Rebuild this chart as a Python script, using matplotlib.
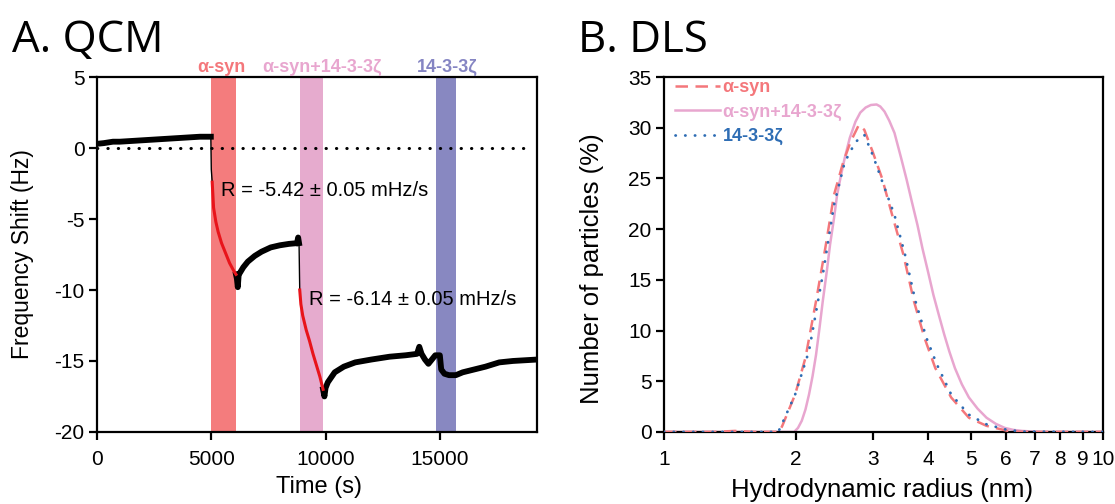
import matplotlib
matplotlib.use("Agg")
import matplotlib.pyplot as plt
from matplotlib.ticker import NullLocator

plt.rcParams["font.family"] = ["Liberation Sans", "DejaVu Sans"]
plt.rcParams["axes.unicode_minus"] = False

# ---- QCM trace ----
base_time = [0, 300, 700, 1000, 1500, 2000, 2500, 3000, 3500, 4000, 4500, 4980]
base_shift = [0.3, 0.35, 0.45, 0.45, 0.5, 0.55, 0.6, 0.65, 0.7, 0.75, 0.8, 0.8]
drop1_time = [4980, 5000, 5040]
drop1_shift = [0.8, -1.5, -2.4]
mid_time = [6080, 6120, 6160, 6200, 6250, 6400, 6600, 6900, 7200, 7600, 8000,
            8400, 8750, 8800, 8840]
mid_shift = [-8.9, -9.2, -9.8, -8.9, -8.8, -8.4, -8.0, -7.6, -7.3, -7.0, -6.85,
             -6.75, -6.7, -6.3, -6.7]
drop2_time = [8840, 8860, 8870]
drop2_shift = [-6.7, -9.0, -10.0]
tail_time = [9890, 9950, 10000, 10100, 10400, 10800, 11300, 12000, 12800, 13500,
             14000, 14100, 14200, 14350, 14500, 14650, 14800, 15000, 15060, 15200,
             15400, 15700, 16000, 16500, 17000, 17600, 18200, 19250]
tail_shift = [-17.0, -17.5, -16.9, -16.5, -15.8, -15.4, -15.1, -14.9, -14.7, -14.6,
              -14.5, -14.0, -14.5, -14.9, -15.2, -14.9, -14.6, -14.6, -15.6, -15.9,
              -16.0, -16.0, -15.8, -15.6, -15.4, -15.1, -15.0, -14.9]

fit1_time = [5040, 5100, 5200, 5300, 5450, 5600, 5800, 6000, 6080]
fit1_shift = [-2.4, -4.2, -5.2, -5.9, -6.7, -7.3, -8.1, -8.7, -8.9]
fit2_time = [8870, 8920, 9000, 9150, 9300, 9450, 9600, 9750, 9890]
fit2_shift = [-10.0, -11.0, -11.8, -12.8, -13.6, -14.5, -15.3, -16.1, -17.0]

band_names = ["α-syn", "α-syn+14-3-3ζ", "14-3-3ζ"]
band_start = [5000, 8860, 14810]
band_end = [6080, 9870, 15700]
band_colors = ["#F47C7D", "#E6ABCE", "#8888C1"]
band_text_colors = ["#F4777B", "#E8A6CF", "#8585C3"]
band_label_x = [5450, 9830, 15300]

# ---- DLS distributions ----
r_asyn = [1.0, 1.3, 1.45, 1.6, 1.83, 1.86, 1.99, 2.10, 2.22, 2.33, 2.44, 2.56,
          2.66, 2.78, 2.86, 2.99, 3.14, 3.31, 3.51, 3.71, 3.92, 4.15, 4.51,
          4.95, 5.43, 6.07, 6.54, 10.0]
n_asyn = [0, 0, 0.1, 0, 0, 0.6, 3.7, 7.3, 12.9, 18.1, 23.4, 26.6,
          28.6, 30.3, 29.8, 27.6, 25.0, 21.4, 17.5, 12.9, 9.3, 6.3, 3.4,
          1.4, 0.6, 0.1, 0, 0]

r_mix = [1.0, 1.98, 2.02, 2.06, 2.10, 2.14, 2.18, 2.22, 2.26, 2.30, 2.35, 2.39,
         2.44, 2.48, 2.53, 2.58, 2.65, 2.73, 2.80, 2.88, 2.96, 3.05, 3.11, 3.18,
         3.26, 3.35, 3.47, 3.57, 3.67, 3.78, 3.88, 4.00, 4.11, 4.23, 4.35, 4.47,
         4.60, 4.77, 4.95, 5.18, 5.43, 5.70, 5.97, 6.25, 6.54, 7.2, 10.0]
n_mix = [0, 0, 0.4, 1.1, 2.2, 3.7, 5.5, 7.6, 10.2, 12.9, 15.9, 18.5,
         21.1, 23.4, 25.3, 27.0, 29.0, 30.6, 31.5, 32.0, 32.25, 32.3, 32.1, 31.6,
         30.7, 29.5, 27.0, 24.9, 22.7, 20.4, 18.1, 15.7, 13.5, 11.5, 9.6, 7.9,
         6.3, 4.7, 3.4, 2.3, 1.4, 0.8, 0.4, 0.2, 0.1, 0, 0]

r_1433 = [1.0, 1.82, 1.84, 1.99, 2.14, 2.30, 2.44, 2.58, 2.73, 2.86, 2.99,
          3.16, 3.35, 3.54, 3.74, 3.96, 4.18, 4.51, 4.95, 5.43, 5.97, 6.54, 10.0]
n_1433 = [0, 0, 0.4, 3.7, 8.0, 15.5, 22.4, 26.6, 28.6, 29.3, 27.3,
          24.4, 21.4, 17.5, 12.9, 9.3, 6.7, 3.7, 1.7, 0.75, 0.26, 0.03, 0]

fig = plt.figure(figsize=(11.15, 5.04), dpi=100)
ax1 = fig.add_axes([0.087, 0.143, 0.3946, 0.704])
ax2 = fig.add_axes([0.5955, 0.143, 0.3937, 0.704])

# ---- panel A ----
for s, e, c in zip(band_start, band_end, band_colors):
    ax1.axvspan(s, e, color=c, lw=0, zorder=0)
ax1.plot([0, 18900], [0, 0], color="black", lw=2.2, ls=(0, (0.1, 3.3)),
         dash_capstyle="round", zorder=1)
for t, f in [(base_time, base_shift), (mid_time, mid_shift), (tail_time, tail_shift)]:
    ax1.plot(t, f, color="black", lw=4.2, solid_joinstyle="round", zorder=2)
for t, f in [(drop1_time, drop1_shift), (drop2_time, drop2_shift)]:
    ax1.plot(t, f, color="black", lw=1.0, zorder=2)
ax1.plot(fit1_time, fit1_shift, color="#E8141B", lw=2.2, zorder=3)
ax1.plot(fit2_time, fit2_shift, color="#E8141B", lw=2.2, zorder=3)

ax1.set_xlim(0, 19250)
ax1.set_ylim(-20, 5)
ax1.set_xticks([0, 5000, 10000, 15000])
ax1.set_yticks([5, 0, -5, -10, -15, -20])
ax1.text(5420, -3.0, "R = -5.42 ± 0.05 mHz/s", fontsize=14.5, va="center", ha="left")
ax1.text(9280, -10.7, "R = -6.14 ± 0.05 mHz/s", fontsize=14.5, va="center", ha="left")
for name, x, c in zip(band_names, band_label_x, band_text_colors):
    ax1.text(x, 5.7, name, color=c, fontsize=13, fontweight="bold",
             ha="center", va="center", clip_on=False)
ax1.set_xlabel("Time (s)", fontsize=17, va="baseline")
ax1.xaxis.set_label_coords(0.505, -0.172)
ax1.set_ylabel("Frequency Shift (Hz)", fontsize=16.5, va="center")
ax1.yaxis.set_label_coords(-0.169, 0.5)

# ---- panel B ----
ax2.plot(r_mix, n_mix, color="#E8A6CF", lw=1.8, label="α-syn+14-3-3ζ", zorder=2)
ax2.plot(r_asyn, n_asyn, color="#F4777B", lw=1.8, ls=(0, (5, 3)), label="α-syn", zorder=3)
ax2.plot(r_1433, n_1433, color="#2E6DB4", lw=2.0, ls=(0, (0.1, 3.4)),
         dash_capstyle="round", label="14-3-3ζ", zorder=4)
ax2.set_xscale("log")
ax2.set_xlim(1, 10)
ax2.set_ylim(0, 35)
ax2.set_yticks(range(0, 36, 5))
ax2.set_xticks(range(1, 11))
ax2.set_xticklabels([str(i) for i in range(1, 11)])
ax2.xaxis.set_minor_locator(NullLocator())
handles, labels = ax2.get_legend_handles_labels()
order = [1, 0, 2]
leg = ax2.legend([handles[i] for i in order], [labels[i] for i in order],
                 loc="upper left", bbox_to_anchor=(0.02, 1.0), frameon=False,
                 handlelength=2.5, handletextpad=0.15, borderaxespad=0,
                 borderpad=0.1, labelspacing=0.42,
                 prop={"weight": "bold", "size": 13})
for txt, c in zip(leg.get_texts(), ["#F4777B", "#E8A6CF", "#2E6DB4"]):
    txt.set_color(c)
ax2.set_xlabel("Hydrodynamic radius (nm)", fontsize=18.5, va="baseline")
ax2.xaxis.set_label_coords(0.497, -0.184)
ax2.set_ylabel("Number of particles (%)", fontsize=18.5, va="center")
ax2.yaxis.set_label_coords(-0.164, 0.46)

for ax in (ax1, ax2):
    for sp in ax.spines.values():
        sp.set_linewidth(1.6)
    ax.tick_params(direction="out", length=6, width=1.6, labelsize=15,
                   top=False, right=False)
    ax.tick_params(axis="x", pad=7)
    ax.tick_params(axis="y", pad=3)

fig.text(0.011, 0.897, "A. QCM", fontsize=31.5, family="Open Sans", va="baseline")
fig.text(0.518, 0.897, "B. DLS", fontsize=31.5, family="Open Sans", va="baseline")

fig.savefig("out.png", dpi=100)
